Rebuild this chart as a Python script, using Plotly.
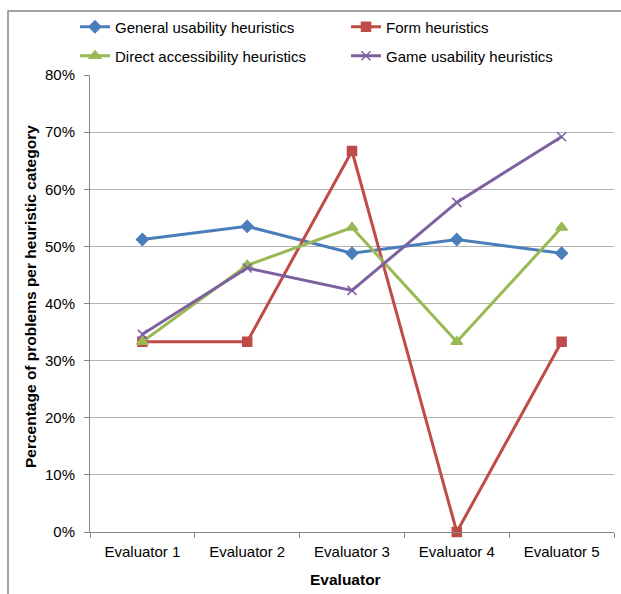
import plotly.graph_objects as go

# Data
evaluators = ["Evaluator 1", "Evaluator 2", "Evaluator 3", "Evaluator 4", "Evaluator 5"]
general_usability = [0.512, 0.535, 0.488, 0.512, 0.488]
form = [0.333, 0.333, 0.667, 0.0, 0.333]
direct_accessibility = [0.333, 0.467, 0.533, 0.333, 0.533]
game_usability = [0.346, 0.462, 0.423, 0.577, 0.692]
y_ticks = [0, 0.1, 0.2, 0.3, 0.4, 0.5, 0.6, 0.7, 0.8]

W, H = 621, 594
ML, MR, MT, MB = 90, 7, 75, 62
FONT = "Liberation Sans, Arial, sans-serif"
TXT = "#000000"

series = [
    ("General usability heuristics", general_usability, "#4A7EBB", "diamond", 9, "legend"),
    ("Form heuristics", form, "#BE4B48", "square", 9, "legend"),
    ("Direct accessibility heuristics", direct_accessibility, "#98B954", "triangle-up", 10, "legend2"),
    ("Game usability heuristics", game_usability, "#7D60A0", "x-thin-open", 9, "legend2"),
]

fig = go.Figure()
for name, vals, color, sym, size, leg in series:
    fig.add_trace(go.Scatter(
        x=evaluators, y=vals, name=name, mode="lines+markers",
        line=dict(color=color, width=3),
        marker=dict(symbol=sym, size=size, color=color,
                    line=dict(color=color, width=1.5)),
        cliponaxis=False, legend=leg,
    ))


def px_x(px):
    return (px - ML) / (W - ML - MR)


def px_y(py):
    return (H - MB - py) / (H - MT - MB)


legend_common = dict(
    orientation="h", xanchor="left", yanchor="middle",
    font=dict(family=FONT, size=15, color=TXT),
    itemwidth=30, entrywidth=226, entrywidthmode="pixels",
    bgcolor="rgba(0,0,0,0)", traceorder="normal",
)

fig.update_layout(
    width=W, height=H,
    margin=dict(l=ML, r=MR, t=MT, b=MB, pad=0),
    paper_bgcolor="white", plot_bgcolor="white",
    font=dict(family=FONT, size=15, color=TXT),
    showlegend=True,
    legend=dict(x=px_x(75), y=px_y(27), **legend_common),
    legend2=dict(x=px_x(75), y=px_y(56), **legend_common),
    xaxis=dict(
        type="category", range=[-0.5, 4.5],
        showline=True, linecolor="#868686", linewidth=1,
        ticks="outside", tickson="boundaries", ticklen=5, tickcolor="#868686",
        showgrid=False, ticklabelstandoff=6,
        tickfont=dict(family=FONT, size=15, color=TXT),
    ),
    yaxis=dict(
        range=[0, 0.8], tickvals=y_ticks, tickformat=".0%",
        showline=True, linecolor="#868686", linewidth=1,
        ticks="outside", ticklen=5, tickcolor="#868686",
        showgrid=True, gridcolor="#B3B3B3", gridwidth=1,
        zeroline=False, ticklabelstandoff=6,
        tickfont=dict(family=FONT, size=15, color=TXT),
    ),
    annotations=[
        dict(text="<b>Percentage of problems per heuristic category</b>",
             xref="paper", yref="paper", x=px_x(30), y=px_y(297),
             xanchor="center", yanchor="middle", textangle=-90, showarrow=False,
             font=dict(family=FONT, size=15.5, color=TXT)),
        dict(text="<b>Evaluator</b>",
             xref="paper", yref="paper", x=px_x(345), y=px_y(579),
             xanchor="center", yanchor="middle", showarrow=False,
             font=dict(family=FONT, size=15.5, color=TXT)),
    ],
    shapes=[
        dict(type="path", xref="paper", yref="paper",
             path=f"M {px_x(8)} {px_y(700)} L {px_x(8)} {px_y(11)} L {px_x(700)} {px_y(11)}",
             line=dict(color="#868686", width=1.5)),
    ],
)

fig.write_html("out.html")
